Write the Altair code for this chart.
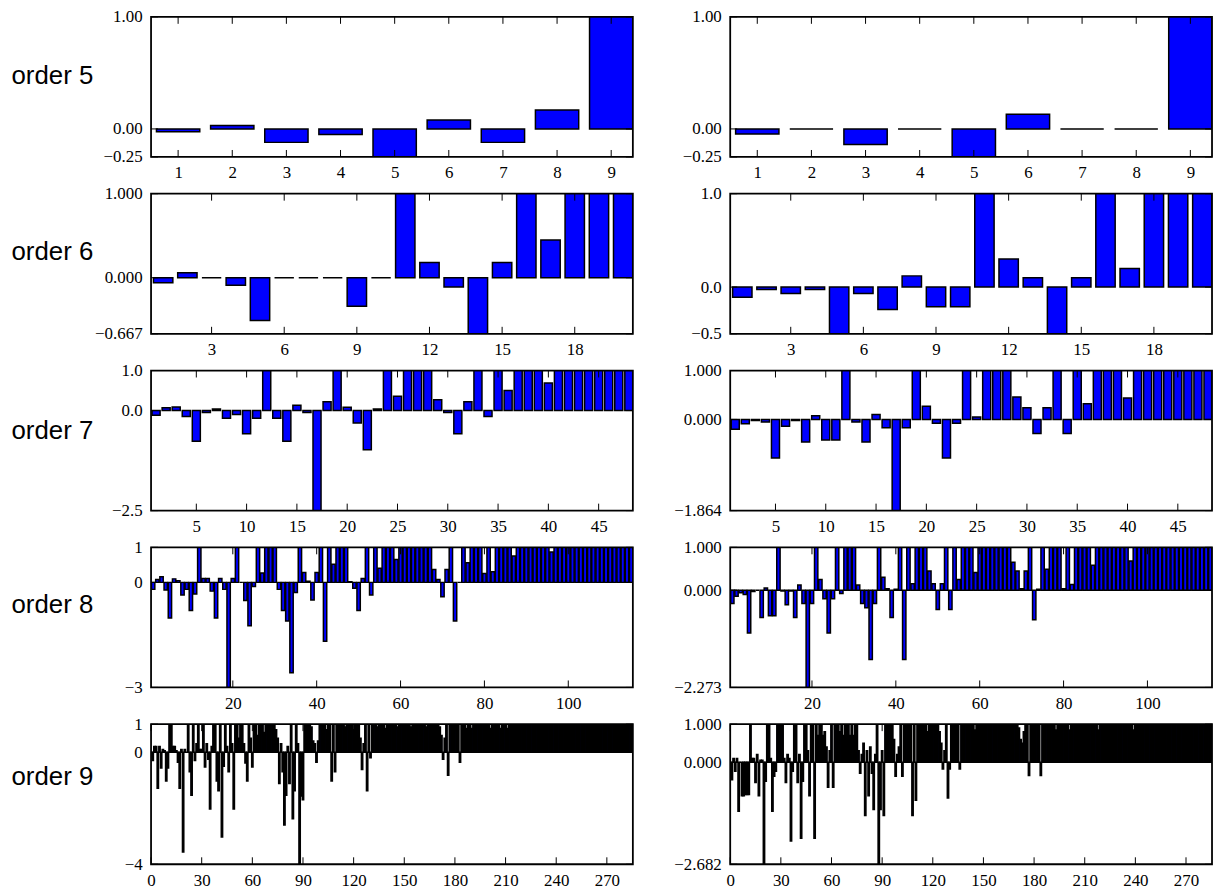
import altair as alt
import pandas as pd

# ---------------- data ----------------
ORDER5_LEFT = [-0.025, 0.03, -0.12, -0.05, -0.4, 0.08, -0.12, 0.17, 1.2]
ORDER5_RIGHT = [-0.045, 0.0, -0.14, 0.0, -0.4, 0.13, 0.0, 0.0, 1.2]

ORDER6_LEFT = [-0.06, 0.06, 0.0, -0.09, -0.51, 0.0, 0.0, 0.0, -0.34, 0.0,
               1.2, 0.18, -0.11, -0.9, 0.18, 1.2, 0.45, 1.2, 1.2, 1.2]
ORDER6_RIGHT = [-0.11, -0.025, -0.07, -0.025, -0.8, -0.07, -0.24, 0.12, -0.21, -0.21,
                1.2, 0.30, 0.10, -0.8, 0.10, 1.2, 0.20, 1.2, 1.2, 1.2]

ORDER7_LEFT = [-0.12, 0.07, 0.09, -0.15, -0.77, -0.05, 0.04, -0.19, -0.1, -0.58,
               -0.19, 1.2, -0.19, -0.77, 0.13, -0.05, -3.0, 0.22, 1.2, 0.08,
               -0.31, -0.98, 0.04, 1.2, 0.36, 1.2, 1.2, 1.2, 0.27, -0.05,
               -0.58, 0.22, 1.2, -0.15, 1.2, 0.5, 1.2, 1.2, 1.2, 0.69,
               1.2, 1.2, 1.2, 1.2, 1.2, 1.2, 1.2, 1.2]
ORDER7_RIGHT = [-0.2, -0.09, -0.02, -0.05, -0.79, -0.14, -0.02, -0.46, 0.075, -0.42,
                -0.42, 1.2, -0.05, -0.46, 0.1, -0.17, -2.5, -0.17, 1.2, 0.27,
                -0.08, -0.79, -0.08, 1.2, 0.05, 1.2, 1.2, 1.2, 0.46, 0.24,
                -0.29, 0.24, 1.2, -0.29, 1.2, 0.32, 1.2, 1.2, 1.2, 0.44,
                1.2, 1.2, 1.2, 1.2, 1.2, 1.2, 1.2, 1.2]

ORDER8_LEFT = [-0.2, 0.08, 0.16, -0.22, -1.02, 0.1, 0.05, -0.36, -0.2, -0.8,
               -0.33, 1.2, 0.11, 0.11, -0.25, -1.02, 0.11, -0.2, -3.5, 0.11,
               1.2, 0.0, -0.52, -1.24, -0.12, 1.2, 0.27, 1.2, 1.2, 1.2,
               -0.2, -0.8, -1.1, -2.58, -0.29, 1.2, 0.28, 0.03, -0.5, 0.28,
               1.2, -1.68, 1.2, 0.52, 1.2, 1.2, 1.2, 0.02, -0.17, -0.8,
               0.11, 1.2, -0.36, 1.2, 0.4, 1.2, 1.2, 1.2, 0.65, 1.2,
               1.2, 1.2, 1.2, 1.2, 1.2, 1.2, 1.2, 0.37, 0.08, -0.41,
               0.37, 1.2, -1.1, 0.0, 1.2, 0.56, 1.2, 1.2, 1.2, 0.25,
               1.2, 0.3, 1.2, 1.2, 1.2, 1.2, 0.75, 1.2, 1.2, 1.2,
               1.2, 1.2, 1.2, 1.2, 1.2, 0.87, 1.2, 1.2, 1.2, 1.2,
               1.2, 1.2, 1.2, 1.2, 1.2, 1.2, 1.2, 1.2, 1.2, 1.2,
               1.2, 1.2, 1.2, 1.2, 1.2]
ORDER8_RIGHT = [-0.31, -0.14, -0.06, -0.1, -1.0, -0.03, 0.0, -0.64, 0.05, -0.6,
                -0.6, 1.2, -0.02, -0.34, -0.02, -0.64, 0.12, -0.31, -3.0, -0.31,
                1.2, 0.25, -0.2, -1.0, -0.2, 1.2, -0.08, 1.2, 1.2, 1.2,
                0.12, -0.31, -0.41, -1.62, -0.31, 1.2, 0.3, 0.03, -0.64, 0.02,
                1.2, -1.62, 1.2, 0.15, 1.2, 1.2, 1.2, 0.45, 0.15, -0.45,
                0.15, 1.2, -0.45, 1.2, 0.25, 1.2, 1.2, 1.2, 0.41, 1.2,
                1.2, 1.2, 1.2, 1.2, 1.2, 1.2, 1.2, 0.65, 0.45, 0.03,
                0.45, 1.2, -0.69, 0.02, 1.2, 0.49, 1.2, 1.2, 1.2, 0.03,
                1.2, 0.13, 1.2, 1.2, 1.2, 1.2, 0.58, 1.2, 1.2, 1.2,
                1.2, 1.2, 1.2, 1.2, 1.2, 0.68, 1.2, 1.2, 1.2, 1.2,
                1.2, 1.2, 1.2, 1.2, 1.2, 1.2, 1.2, 1.2, 1.2, 1.2,
                1.2, 1.2, 1.2, 1.2, 1.2]

ORDER9_LEFT = [-0.3, 0.2, 0.2, -1.29, 0.2, -0.56, 0.1, 0.05, -1.03, -0.56,
               1.2, 1.2, 0.2, 0.2, 0.05, -0.36, -1.29, 0.1, -3.56, 0.1,
               0.0, 1.2, -0.7, -1.54, 1.2, -0.3, 0.3, 1.2, 0.1, 0.1,
               1.2, -0.53, 0.3, -0.25, -2.03, 0.2, 1.2, 1.2, -1.03, -1.38,
               1.2, -3.03, -0.5, 1.2, 0.2, -0.7, 1.2, 0.3, -2.03, 1.2,
               1.2, 0.5, 1.2, 1.2, 0.3, -0.39, -1.03, 1.2, 0.5, -0.53,
               1.2, 1.2, 0.6, 1.2, 1.2, 1.2, 0.7, 1.2, 1.2, 1.2,
               1.2, 1.2, 1.2, 0.8, 0.5, -1.12, 0.3, -0.7, -2.6, -1.54,
               0.2, -1.12, 1.2, -2.38, -1.38, 1.2, 0.3, -4.5, -1.56, -1.7,
               1.2, 1.2, 1.2, 1.2, 0.9, 0.4, 0.3, -0.36, 0.4, 1.2,
               1.2, 1.2, 1.2, 0.8, 1.2, 1.2, -1.03, 1.2, -0.7, 1.2,
               1.2, 1.2, 1.2, 1.2, 0.9, 1.2, 1.2, 1.2, 1.2, 0.8,
               1.2, 1.2, 1.2, 0.5, -0.62, 0.3, 1.2, -1.38, 1.2, -0.2,
               1.2, 1.2, 1.2, 0.9, 1.2, 1.2, 1.2, 1.2, 0.85, 1.2,
               1.2, 1.2, 1.2, 1.2, 1.2, 0.9, 1.2, 1.2, 1.2, 1.2,
               1.2, 1.2, 1.2, 0.9, 1.2, 1.2, 1.2, 1.2, 1.2, 1.2,
               1.2, 1.2, 0.9, 1.2, 1.2, 1.2, 1.2, 1.2, 1.2, 1.2,
               0.9, 0.6, -0.25, 0.5, 1.2, -0.82, 1.2, 1.2, 1.2, 1.2,
               1.2, 1.2, -0.36, 1.2, 1.2, 1.2, 0.85, 1.2, 1.2, 0.85,
               1.2, 1.2, 1.2, 1.2, 1.2, 1.2, 1.2, 1.2, 1.2, 1.2,
               0.85, 1.2, 1.2, 1.2, 1.2, 1.2, 0.85, 1.2, 1.2, 1.2,
               0.85, 1.2, 1.2, 1.2, 1.2, 1.2, 1.2, 1.2, 1.2, 1.2,
               1.2, 1.2, 1.2, 1.2, 1.2, 1.2, 1.2, 1.2, 1.2, 1.2,
               1.2, 1.2, 1.2, 1.2, 1.2, 1.2, 1.2, 1.2, 1.2, 1.2,
               1.2, 1.2, 1.2, 1.2, 1.2, 1.2, 1.2, 1.2, 1.2, 1.2,
               1.2, 1.2, 1.2, 1.2, 1.2, 1.2, 1.2, 1.2, 1.2, 1.2,
               1.2, 1.2, 1.2, 1.2, 1.2, 1.2, 1.2, 1.2, 1.2, 1.2,
               1.2, 1.2, 1.2, 1.2, 1.2, 1.2, 1.2, 1.2, 1.2, 1.2,
               1.2, 1.2, 1.2, 1.2, 1.2]
ORDER9_RIGHT = [-0.46, 0.1, -0.24, 0.1, -1.29, 0.0, -0.88, -0.88, -0.85, -0.85,
                -0.85, 1.2, 0.1, 0.1, -0.53, 0.2, -0.88, 0.05, 0.05, -2.9,
                -0.5, 1.2, 1.2, 0.1, -1.29, -0.37, -0.24, 1.2, 1.2, 1.2,
                1.2, 0.1, -0.53, 0.2, 0.1, -2.07, -0.24, 1.2, 1.2, -0.53,
                0.2, -2.0, -0.5, 1.2, 1.2, 0.3, -0.88, 1.2, 1.2, -2.0,
                1.2, 0.7, 1.2, 1.2, 0.7, 0.8, 0.4, -0.66, 0.3, 1.2,
                -0.66, 1.2, 1.2, 1.2, 0.8, 1.2, 0.7, 1.2, 1.2, 1.2,
                0.7, 1.2, 0.7, 1.2, 1.2, 0.3, -0.29, 0.2, 0.5, -1.4,
                0.3, -0.88, 0.4, -0.29, -1.24, 0.2, 1.2, -2.9, -1.24, 0.3,
                -1.4, 1.2, 1.2, 1.2, 1.2, 1.2, 0.6, -0.37, 0.2, 0.4,
                1.2, -0.37, 1.2, 1.2, 1.2, 1.2, 1.2, -1.4, 1.2, -1.0,
                1.2, 1.2, 1.2, 1.2, 1.2, 1.2, 0.8, 1.2, 1.2, 1.2,
                1.2, 1.2, 1.2, 0.8, 0.5, -0.18, 0.3, 1.2, -0.94, -0.18,
                1.2, 1.2, 1.2, 1.2, 1.2, -0.18, 1.2, 1.2, 1.2, 1.2,
                1.2, 1.2, 1.2, 1.2, 0.85, 1.2, 1.2, 1.2, 1.2, 1.2,
                1.2, 1.2, 1.2, 1.2, 1.2, 1.2, 1.2, 1.2, 1.2, 1.2,
                1.2, 1.2, 1.2, 1.2, 1.2, 1.2, 1.2, 1.2, 1.2, 1.2,
                0.9, 0.6, 0.5, 0.8, 1.2, 1.2, -0.35, 1.2, 1.2, 1.2,
                1.2, 1.2, 1.2, -0.35, 1.2, 1.2, 1.2, 1.2, 1.2, 1.2,
                1.2, 1.2, 0.85, 1.2, 1.2, 1.2, 1.2, 1.2, 1.2, 1.2,
                0.85, 1.2, 1.2, 1.2, 1.2, 1.2, 1.2, 1.2, 1.2, 1.2,
                1.2, 1.2, 1.2, 1.2, 1.2, 1.2, 1.2, 0.85, 1.2, 1.2,
                1.2, 1.2, 1.2, 1.2, 1.2, 1.2, 1.2, 1.2, 1.2, 1.2,
                1.2, 1.2, 1.2, 1.2, 1.2, 1.2, 1.2, 1.2, 0.85, 1.2,
                1.2, 1.2, 1.2, 1.2, 1.2, 1.2, 1.2, 1.2, 1.2, 1.2,
                1.2, 1.2, 1.2, 1.2, 1.2, 1.2, 1.2, 1.2, 1.2, 1.2,
                1.2, 1.2, 1.2, 1.2, 1.2, 1.2, 1.2, 1.2, 1.2, 1.2,
                1.2, 1.2, 1.2, 1.2, 1.2, 1.2, 1.2, 1.2, 1.2, 1.2,
                1.2, 1.2, 1.2, 1.2, 1.2]

ROW_TITLES = ["order 5", "order 6", "order 7", "order 8", "order 9"]
X_TICKS = [
    [1, 2, 3, 4, 5, 6, 7, 8, 9],
    [3, 6, 9, 12, 15, 18],
    [5, 10, 15, 20, 25, 30, 35, 40, 45],
    [20, 40, 60, 80, 100],
    [0, 30, 60, 90, 120, 150, 180, 210, 240, 270],
]
X_START = [0.5, 0.5, 0.5, 0.5, 0.0]
Y_TICKS_LEFT = [[-0.25, 0, 1], [-0.667, 0, 1], [-2.5, 0, 1], [-3, 0, 1], [-4, 0, 1]]
Y_FMT_LEFT = [".2f", ".3f", ".1f", "d", "d"]
Y_TICKS_RIGHT = [[-0.25, 0, 1], [-0.5, 0, 1], [-1.864, 0, 1], [-2.273, 0, 1], [-2.682, 0, 1]]
Y_FMT_RIGHT = [".2f", ".1f", ".3f", ".3f", ".3f"]
TITLE_Y = [59, 58, 60, 58, 53]

LEFT = [ORDER5_LEFT, ORDER6_LEFT, ORDER7_LEFT, ORDER8_LEFT, ORDER9_LEFT]
RIGHT = [ORDER5_RIGHT, ORDER6_RIGHT, ORDER7_RIGHT, ORDER8_RIGHT, ORDER9_RIGHT]

W, H = 485, 141
TICK = 7


def panel(vals, xt, xstart, yt, yfmt, title=None, ty=0):
    n = len(vals)
    xs = alt.Scale(domain=[xstart, n + 0.4], nice=False, zero=False)
    ys = alt.Scale(domain=[yt[0], 1], nice=False, zero=False)
    df = pd.DataFrame({"i": list(range(1, n + 1)), "v": vals})
    if title is not None:
        yaxis = alt.Axis(values=yt, format=yfmt, title=title, titleAngle=0,
                         titleAlign="left", titleBaseline="middle",
                         titleX=-141, titleY=ty, titleFont="Liberation Sans",
                         titleFontSize=26, titleFontWeight="normal",
                         titleColor="black", labelPadding=9)
    else:
        yaxis = alt.Axis(values=yt, format=yfmt, title=None,
                         minExtent=62, maxExtent=62, labelPadding=9)
    xaxis = alt.Axis(values=xt, format="d", title=None, labelFlush=False)

    bars = alt.Chart(df).transform_calculate(
        a="datum.i - 0.4", b="datum.i + 0.4"
    ).mark_bar(clip=True, fill="#0000ff", stroke="black", strokeWidth=1.5).encode(
        x=alt.X("a:Q", scale=xs, axis=xaxis),
        x2="b:Q",
        y=alt.Y("v:Q", scale=ys, axis=yaxis),
        y2=alt.datum(0),
    )
    tdf = pd.DataFrame({"a": xt})
    top = alt.Chart(tdf).mark_rule(color="black", strokeWidth=1).encode(
        x=alt.X("a:Q", scale=xs, axis=xaxis), y=alt.value(0), y2=alt.value(TICK))
    bot = alt.Chart(tdf).mark_rule(color="black", strokeWidth=1).encode(
        x=alt.X("a:Q", scale=xs, axis=xaxis), y=alt.value(H - TICK), y2=alt.value(H))
    ydf = pd.DataFrame({"v": yt})
    yl = alt.Chart(ydf).mark_rule(color="black", strokeWidth=1).encode(
        y=alt.Y("v:Q", scale=ys, axis=yaxis), x=alt.value(0), x2=alt.value(TICK))
    yr = alt.Chart(ydf).mark_rule(color="black", strokeWidth=1).encode(
        y=alt.Y("v:Q", scale=ys, axis=yaxis), x=alt.value(W - TICK), x2=alt.value(W))
    border = alt.Chart(pd.DataFrame({"k": [0]})).mark_rect(
        filled=False, stroke="black", strokeWidth=1.8).encode(
        x=alt.value(0), x2=alt.value(W), y=alt.value(0), y2=alt.value(H))
    return alt.layer(bars, top, bot, yl, yr, border).properties(width=W, height=H)


rows = []
for r in range(5):
    left = panel(LEFT[r], X_TICKS[r], X_START[r], Y_TICKS_LEFT[r], Y_FMT_LEFT[r],
                 title=ROW_TITLES[r], ty=TITLE_Y[r])
    right = panel(RIGHT[r], X_TICKS[r], X_START[r], Y_TICKS_RIGHT[r], Y_FMT_RIGHT[r])
    rows.append(alt.hconcat(left, right, spacing=33))

chart = alt.vconcat(*rows, spacing=2).properties(
    padding={"left": 2, "top": -4, "right": 0, "bottom": 0},
    background="white",
).configure_view(stroke="transparent").configure_axis(
    labelFont="Liberation Serif", labelFontSize=17, labelColor="black",
    labelPadding=8, grid=False, domain=False, ticks=False, tickSize=0,
    labelOverlap=False,
)

chart.save("out.html", embed_options={"renderer": "svg", "actions": False})
